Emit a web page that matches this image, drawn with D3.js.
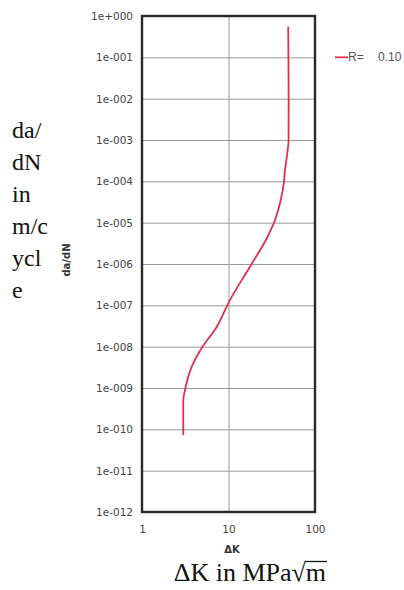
<!DOCTYPE html>
<html>
<head>
<meta charset="utf-8">
<script src="https://cdn.jsdelivr.net/npm/d3@7"></script>
<style>
  body { margin: 0; background: #fff; }
  .tick text { font-family: "DejaVu Sans", sans-serif; font-size: 10.5px; fill: #444; }
  .tick line { stroke: #999; stroke-width: 1; }
  .serif { font-family: "Liberation Serif", "Times New Roman", serif; fill: #111; }
</style>
</head>
<body>
<div id="chart"></div>
<script>
// da/dN vs delta K curve, log-log

const FRAME_WIDTH = 404;
const FRAME_HEIGHT = 590;
const PLOT = {left: 142, right: 315, top: 16, bottom: 512};
const VIS_WIDTH = PLOT.right - PLOT.left;
const VIS_HEIGHT = PLOT.bottom - PLOT.top;

// data
const DA_DN = [5.5e-1, 1e-1, 1e-2, 1e-3, 5e-4, 1.9e-4, 9.6e-5, 3e-5, 1.16e-5, 4.2e-6,
               8.6e-7, 1.34e-7, 9.2e-8, 3e-8, 9.3e-9, 3.3e-9, 8.9e-10, 5e-10, 7.3e-11];
const DELTA_K = [49.0, 49.3, 49.6, 49.5, 48.0, 45.0, 43.8, 39.4, 34.5, 27.7,
                 17.7, 10.4, 9.5, 7.3, 4.9, 3.76, 3.14, 3.0, 3.0];
const SERIES_NAME = "R= 0.10";

const Y_TICKS = ["1e+000", "1e-001", "1e-002", "1e-003", "1e-004", "1e-005", "1e-006",
                 "1e-007", "1e-008", "1e-009", "1e-010", "1e-011", "1e-012"];
const X_TICKS = [1, 10, 100];
const X_TICK_LABELS = ["1", "10", "100"];
const LEFT_TEXT = ["da/", "dN", "in", "m/c", "ycl", "e"];

const svg = d3.select('#chart')
  .append('svg')
    .attr('width', FRAME_WIDTH)
    .attr('height', FRAME_HEIGHT);

const xscale = d3.scaleLog().domain([1, 100]).range([PLOT.left, PLOT.right]);
const yscale = d3.scaleLog().domain([1e-12, 1]).range([PLOT.bottom, PLOT.top]);

// y axis + horizontal grid
const yAxis = svg.append('g')
  .attr('transform', 'translate(' + PLOT.left + ',0)')
  .call(d3.axisLeft(yscale)
    .tickValues(Y_TICKS.map(Number))
    .tickFormat((d, i) => Y_TICKS[i])
    .tickSize(-VIS_WIDTH)
    .tickPadding(9));
yAxis.select('.domain').remove();

// x axis + vertical grid
const xAxis = svg.append('g')
  .attr('transform', 'translate(0,' + PLOT.bottom + ')')
  .call(d3.axisBottom(xscale)
    .tickValues(X_TICKS)
    .tickFormat((d, i) => X_TICK_LABELS[i])
    .tickSize(-VIS_HEIGHT)
    .tickPadding(14));
xAxis.select('.domain').remove();

// frame
svg.append('rect')
  .attr('x', PLOT.left)
  .attr('y', PLOT.top)
  .attr('width', VIS_WIDTH)
  .attr('height', VIS_HEIGHT)
  .attr('fill', 'none')
  .attr('stroke', '#2a2a2a')
  .attr('stroke-width', 2.4);

// curve
const line = d3.line()
  .x((d, i) => xscale(DELTA_K[i]))
  .y((d) => yscale(d))
  .curve(d3.curveMonotoneY);

svg.append('path')
  .datum(DA_DN)
  .attr('d', line)
  .attr('fill', 'none')
  .attr('stroke', '#e0304e')
  .attr('stroke-width', 1.8);

// legend
svg.append('line')
  .attr('x1', 335).attr('x2', 348)
  .attr('y1', yscale(1e-1)).attr('y2', yscale(1e-1))
  .attr('stroke', '#e0304e')
  .attr('stroke-width', 1.8);
svg.append('text')
  .attr('x', 348)
  .attr('y', yscale(1e-1) + 4)
  .attr('font-family', 'Liberation Sans, Arial, sans-serif')
  .attr('font-size', '12px')
  .attr('word-spacing', '11px')
  .attr('fill', '#555')
  .text(SERIES_NAME);

// small axis titles
svg.append('text')
  .attr('x', 232)
  .attr('y', 553)
  .attr('text-anchor', 'middle')
  .attr('font-family', 'DejaVu Sans, sans-serif')
  .attr('font-size', '10px')
  .attr('font-weight', 'bold')
  .attr('fill', '#333')
  .text('\u0394K');

svg.append('text')
  .attr('transform', 'translate(70,260) rotate(-90)')
  .attr('text-anchor', 'middle')
  .attr('font-family', 'DejaVu Sans, sans-serif')
  .attr('font-size', '10px')
  .attr('font-weight', 'bold')
  .attr('fill', '#333')
  .text('da/dN');

// big serif labels
svg.selectAll('.lefttext')
  .data(LEFT_TEXT)
  .enter()
  .append('text')
    .attr('class', 'serif lefttext')
    .attr('x', 12)
    .attr('y', (d, i) => 138 + i * 32)
    .attr('font-size', '24px')
    .text((d) => d);

svg.append('text')
  .attr('class', 'serif')
  .attr('x', 326)
  .attr('y', 581)
  .attr('text-anchor', 'end')
  .attr('font-size', '26px')
  .text('\u0394K in MPa\u221Am');

// overline for the root
svg.append('line')
  .attr('x1', 305).attr('x2', 327)
  .attr('y1', 561.5).attr('y2', 561.5)
  .attr('stroke', '#111')
  .attr('stroke-width', 1.3);
</script>
</body>
</html>
